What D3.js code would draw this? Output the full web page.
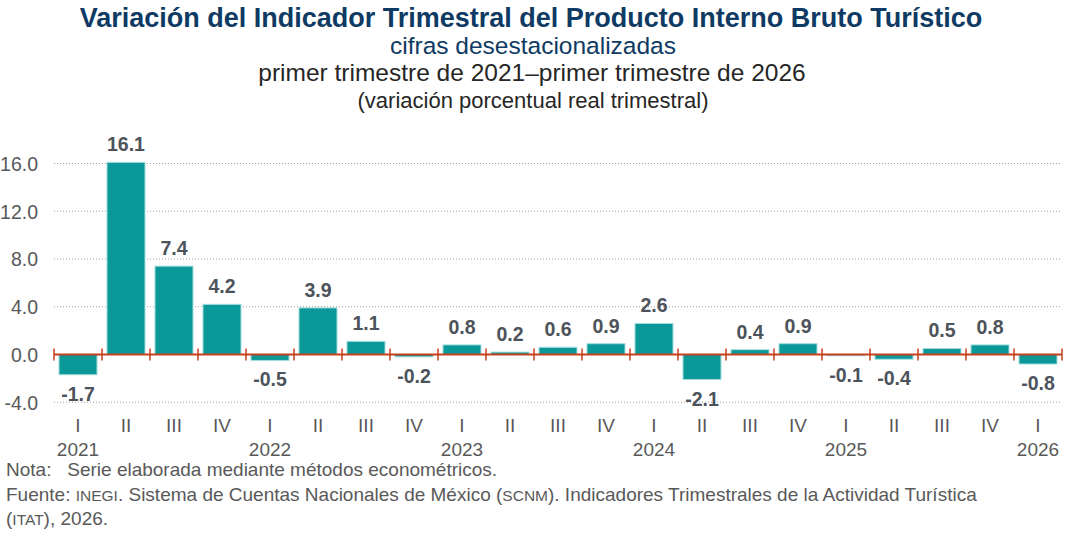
<!DOCTYPE html>
<html><head><meta charset="utf-8">
<script src="https://cdn.jsdelivr.net/npm/d3@7"></script>
<style>body{margin:0;background:#fff}svg{display:block}</style>
</head><body>
<svg id="c" width="1068" height="534"></svg>
<script>
const quarters = ["I","II","III","IV","I","II","III","IV","I","II","III","IV","I","II","III","IV","I","II","III","IV","I"];
const years = ["2021","","","","2022","","","","2023","","","","2024","","","","2025","","","","2026"];
const values = [-1.7,16.1,7.4,4.2,-0.5,3.9,1.1,-0.2,0.8,0.2,0.6,0.9,2.6,-2.1,0.4,0.9,-0.1,-0.4,0.5,0.8,-0.8];
const yTicks = [-4,0,4,8,12,16];

const svg = d3.select("#c");
const font = "'Liberation Sans', Arial, sans-serif";
const fmt = d => d3.format(".1f")(d).replace("−","-");
const x = d3.scaleBand().domain(d3.range(values.length)).range([54,1062]).paddingInner(0.208).paddingOuter(0.104);
const y = d3.scaleLinear().domain([-4,16]).range([402.2,163.5]);

// titles
const t = svg.append("g").attr("font-family",font).attr("text-anchor","middle");
t.append("text").attr("x",531).attr("y",27).attr("font-size",27).attr("font-weight","bold").attr("fill","#0e3a63").text("Variación del Indicador Trimestral del Producto Interno Bruto Turístico");
t.append("text").attr("x",533).attr("y",54).attr("font-size",24.5).attr("fill","#0e3a63").text("cifras desestacionalizadas");
t.append("text").attr("x",532).attr("y",81).attr("font-size",24.5).attr("fill","#262626").text("primer trimestre de 2021–primer trimestre de 2026");
t.append("text").attr("x",533).attr("y",108).attr("font-size",22).attr("fill","#262626").text("(variación porcentual real trimestral)");

// grid
svg.append("g").selectAll("line").data(yTicks.filter(d=>d!==0)).join("line")
  .attr("x1",54).attr("x2",1062).attr("y1",d=>y(d)).attr("y2",d=>y(d))
  .attr("stroke","#a0a0a0").attr("stroke-width",1).attr("stroke-dasharray","1,2");

// y axis labels
const yAxis = d3.axisLeft(y).tickValues(yTicks).tickFormat(fmt).tickSize(0).tickPadding(0);
const ya = svg.append("g").attr("transform","translate(38,0)").call(yAxis);
ya.select(".domain").remove();
ya.selectAll("text").attr("font-family",font).attr("font-size",19.5).attr("fill","#595959").attr("dy","0.35em");

// bars
svg.append("g").selectAll("rect").data(values).join("rect")
  .attr("x",(d,i)=>x(i)).attr("width",x.bandwidth())
  .attr("y",d=>y(Math.max(0,d))).attr("height",d=>Math.abs(y(d)-y(0)))
  .attr("fill","#0a9898").attr("stroke","#a6dede").attr("stroke-width",1);

// zero line + ticks
svg.append("line").attr("x1",54).attr("x2",1062).attr("y1",y(0)).attr("y2",y(0)).attr("stroke","#c4401e").attr("stroke-width",2);
const step = x.step();
svg.append("g").selectAll("line").data(d3.range(values.length+1)).join("line")
  .attr("x1",i=>54+i*step).attr("x2",i=>54+i*step).attr("y1",y(0)-6).attr("y2",y(0)+6)
  .attr("stroke","#c4401e").attr("stroke-width",1.5);

// value labels
svg.append("g").selectAll("text").data(values).join("text")
  .attr("x",(d,i)=>x(i)+x.bandwidth()/2)
  .attr("y",d=> d>=0 ? y(d)-11 : y(d)+26)
  .attr("text-anchor","middle").attr("font-family",font).attr("font-size",19.5).attr("font-weight","bold").attr("fill","#4d535b")
  .text(fmt);

// x axis labels
const xg = svg.append("g").attr("font-family",font).attr("font-size",19).attr("fill","#595959").attr("text-anchor","middle");
xg.selectAll(".q").data(quarters).join("text").attr("class","q")
  .attr("x",(d,i)=>x(i)+x.bandwidth()/2).attr("y",432).text(d=>d);
xg.selectAll(".yr").data(years).join("text").attr("class","yr")
  .attr("x",(d,i)=>x(i)+x.bandwidth()/2).attr("y",456).text(d=>d);

// footnotes
const f = svg.append("g").attr("font-family",font).attr("font-size",19).attr("fill","#595959");
f.append("text").attr("x",6).attr("y",476).attr("xml:space","preserve").text("Nota:   Serie elaborada mediante métodos econométricos.");
const l2 = f.append("text").attr("x",6).attr("y",501);
l2.append("tspan").text("Fuente: ");
l2.append("tspan").attr("font-size",15.5).text("INEGI");
l2.append("tspan").text(". Sistema de Cuentas Nacionales de México (");
l2.append("tspan").attr("font-size",15.5).text("SCNM");
l2.append("tspan").text("). Indicadores Trimestrales de la Actividad Turística");
const l3 = f.append("text").attr("x",6).attr("y",525);
l3.append("tspan").text("(");
l3.append("tspan").attr("font-size",15.5).text("ITAT");
l3.append("tspan").text("), 2026.");
</script>
</body></html>
